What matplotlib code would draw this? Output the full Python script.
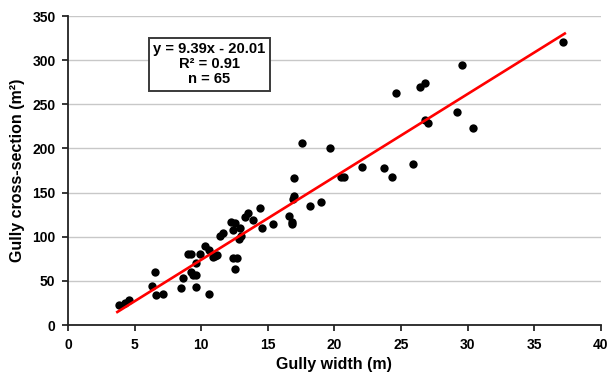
import numpy as np
import matplotlib.pyplot as plt

plt.rcParams['font.family'] = ['Liberation Sans', 'DejaVu Sans']

# gully width (m) vs cross-section (m2)
width = [3.8, 4.3, 4.6, 6.3, 6.5, 6.6, 7.1, 8.5, 8.6, 9.0,
         9.2, 9.2, 9.4, 9.6, 9.6, 9.6, 9.9, 10.3, 10.6, 10.6,
         10.9, 11.0, 11.2, 11.4, 11.6, 12.2, 12.5, 12.4, 12.4, 12.7,
         12.5, 12.8, 13.0, 12.9, 13.3, 13.5, 13.9, 14.4, 14.6, 15.4,
         16.6, 16.8, 16.8, 16.9, 17.0, 17.0, 17.6, 18.2, 19.0, 19.7,
         20.5, 20.7, 22.1, 23.7, 24.3, 24.6, 25.9, 26.4, 26.8, 26.8,
         27.0, 29.2, 29.6, 30.4, 37.2]
section = [23, 25, 28, 44, 60, 34, 35, 42, 53, 81,
           81, 60, 57, 57, 70, 43, 81, 89, 85, 35,
           77, 78, 79, 101, 104, 117, 116, 108, 76, 76,
           64, 98, 101, 110, 122, 127, 119, 133, 110, 115,
           124, 117, 114, 143, 146, 166, 206, 135, 139, 200,
           168, 168, 179, 178, 168, 263, 182, 270, 274, 232,
           229, 241, 295, 223, 321]

slope, intercept = 9.39, -20.01
fit_x = [3.7, 37.3]

fig = plt.figure(figsize=(6.13, 3.74), dpi=100)
ax = fig.add_axes([0.111, 0.131, 0.869, 0.826])

ax.scatter(width, section, s=36, color='black', zorder=3, linewidths=0)
fx = np.array(fit_x)
ax.plot(fx, slope * fx + intercept, color='#ff0000', lw=1.9, zorder=4)

ax.set_xlim(0, 40)
ax.set_ylim(0, 350)
ax.set_xticks(range(0, 41, 5))
ax.set_yticks(range(0, 351, 50))
ax.yaxis.grid(True, color='#c8c8c8', lw=1.0)
ax.set_axisbelow(True)
for s in ['top', 'right']:
    ax.spines[s].set_visible(False)
for s in ['left', 'bottom']:
    ax.spines[s].set_linewidth(1.3)
    ax.spines[s].set_color('#222222')
ax.tick_params(labelsize=10, length=4, width=1.1, direction='out', pad=5)
for lab in ax.get_xticklabels() + ax.get_yticklabels():
    lab.set_fontweight('bold')

ax.set_xlabel('Gully width (m)', fontsize=11.5, fontweight='bold', labelpad=4)
ax.set_ylabel('Gully cross-section (m²)', fontsize=11.5, fontweight='bold', labelpad=5)

ax.text(10.6, 295.5, 'y = 9.39x - 20.01\nR² = 0.91\nn = 65', ha='center', va='center',
        fontsize=10.6, fontweight='bold', linespacing=1.1,
        bbox=dict(boxstyle='square,pad=0.3', facecolor='white', edgecolor='#3a3a3a', lw=1.4))

fig.savefig('out.png', dpi=100)
